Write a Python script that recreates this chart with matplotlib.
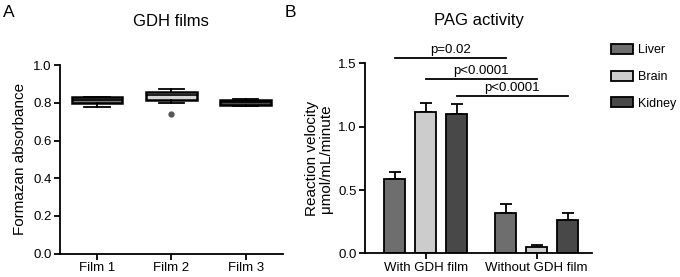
import matplotlib
matplotlib.use("Agg")
import matplotlib.pyplot as plt
import numpy as np
from matplotlib.patches import Patch

plt.rcParams['font.family'] = ['Liberation Sans', 'DejaVu Sans']

# Panel A data (box plot summary)
films = ["Film 1", "Film 2", "Film 3"]
film_q1 = [0.797, 0.818, 0.790]
film_med = [0.815, 0.840, 0.805]
film_q3 = [0.832, 0.858, 0.818]
film_lo = [0.779, 0.800, 0.786]
film_hi = [0.832, 0.873, 0.821]
film_fliers = [[], [0.740], []]
film_colors = ["#7a7a7a", "#d4d4d4", "#4a4a4a"]

# Panel B data
groups = ["With GDH film", "Without GDH film"]
tissues = ["Liver", "Brain", "Kidney"]
liver = [0.59, 0.32]
brain = [1.12, 0.05]
kidney = [1.10, 0.26]
liver_err = [0.05, 0.07]
brain_err = [0.07, 0.012]
kidney_err = [0.08, 0.06]
tissue_colors = ["#6e6e6e", "#cccccc", "#484848"]
pvals = ["p=0.02", "p<0.0001", "p<0.0001"]
p_heights = [1.54, 1.38, 1.24]

fig = plt.figure(figsize=(6.8, 2.77), dpi=100)

TICK = 9.5

# ---------- Panel A ----------
axA = fig.add_axes([0.088, 0.0845, 0.328, 0.68])
stats = []
for i in range(3):
    stats.append(dict(med=film_med[i], q1=film_q1[i], q3=film_q3[i],
                      whislo=film_lo[i], whishi=film_hi[i], fliers=film_fliers[i]))
bp = axA.bxp(stats, positions=[1, 2, 3], widths=0.68, patch_artist=True,
             showfliers=True,
             boxprops=dict(linewidth=1.8, edgecolor='black'),
             medianprops=dict(color='black', linewidth=1.2),
             whiskerprops=dict(linewidth=1.3, color='black'),
             capprops=dict(linewidth=1.3, color='black'),
             flierprops=dict(marker='o', markerfacecolor='#555555', markeredgecolor='#555555', markersize=3.5))
for patch, c in zip(bp['boxes'], film_colors):
    patch.set_facecolor(c)
for cap in bp['caps']:
    xd = cap.get_xdata()
    m = xd.mean()
    cap.set_xdata([m - 0.17, m + 0.17])
axA.set_xlim(0.5, 3.5)
axA.set_ylim(0, 1.0)
axA.set_yticks([0, 0.2, 0.4, 0.6, 0.8, 1.0])
axA.set_yticklabels(["0.0", "0.2", "0.4", "0.6", "0.8", "1.0"])
axA.set_xticks([1, 2, 3])
axA.set_xticklabels(films)
axA.spines['top'].set_visible(False)
axA.spines['right'].set_visible(False)
for s in ['left', 'bottom']:
    axA.spines[s].set_linewidth(1.3)
axA.tick_params(axis='both', labelsize=TICK, width=1.3, length=4, pad=2)
axA.set_ylabel("Formazan absorbance", fontsize=11, labelpad=4)
axA.set_title("GDH films", fontsize=12, pad=28)
fig.text(0.005, 0.955, "A", fontsize=12.5, va='center')

# ---------- Panel B ----------
axB = fig.add_axes([0.537, 0.0855, 0.334, 0.6855])
x = np.arange(len(groups))
off = 0.28
w = 0.19
series = [liver, brain, kidney]
errs = [liver_err, brain_err, kidney_err]
for j in range(3):
    xs = x + (j - 1) * off
    axB.bar(xs, series[j], width=w, color=tissue_colors[j], edgecolor='black',
            linewidth=1.3, label=tissues[j], zorder=2)
    axB.errorbar(xs, series[j], yerr=[np.zeros(len(groups)), errs[j]], fmt='none',
                 ecolor='black', elinewidth=1.3, capsize=4, capthick=1.3, zorder=1)
axB.set_xlim(-0.545, 1.5)
axB.set_ylim(0, 1.5)
axB.set_yticks([0, 0.5, 1.0, 1.5])
axB.set_yticklabels(["0.0", "0.5", "1.0", "1.5"])
axB.set_xticks(x)
axB.set_xticklabels(groups)
axB.spines['top'].set_visible(False)
axB.spines['right'].set_visible(False)
for s in ['left', 'bottom']:
    axB.spines[s].set_linewidth(1.3)
axB.tick_params(axis='both', labelsize=TICK, width=1.3, length=4, pad=2)
axB.set_ylabel("Reaction velocity\nμmol/mL/minute", fontsize=11, labelpad=4, linespacing=0.95)
axB.set_title("PAG activity", fontsize=12, pad=28)
fig.text(0.418, 0.955, "B", fontsize=12.5, va='center')

for j in range(3):
    x0 = x[0] + (j - 1) * off
    x1 = x[1] + (j - 1) * off
    h = p_heights[j]
    axB.plot([x0, x1], [h, h], color='black', linewidth=1.3, clip_on=False)
    axB.text((x0 + x1) / 2, h + 0.015, pvals[j], ha='center', va='bottom', fontsize=TICK)

handles = [Patch(facecolor=c, edgecolor='black', linewidth=1.3) for c in tissue_colors]
fig.legend(handles, tissues, loc='upper left', bbox_to_anchor=(0.893, 0.855),
           frameon=False, fontsize=9, handlelength=1.75, handleheight=0.85,
           labelspacing=1.15, handletextpad=0.45, borderaxespad=0, borderpad=0.3)

fig.savefig("out.png", dpi=100)
